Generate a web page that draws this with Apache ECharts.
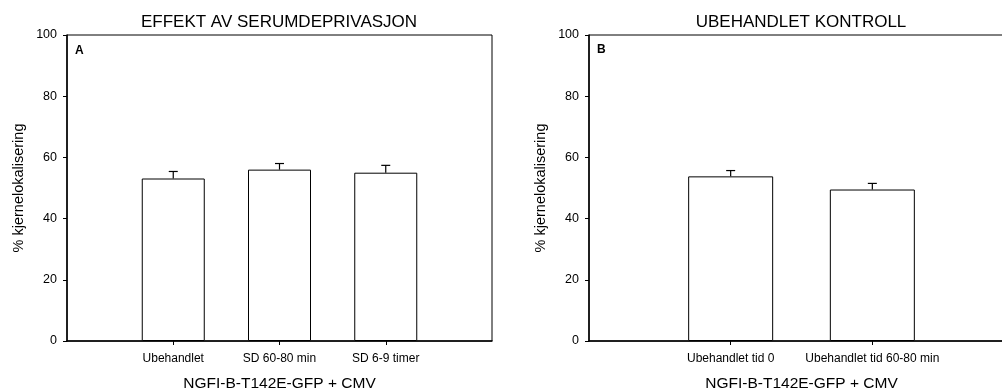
<!DOCTYPE html>
<html>
<head>
<meta charset="utf-8">
<script src="https://cdn.jsdelivr.net/npm/echarts@6/dist/echarts.min.js"></script>
<style>
html,body{margin:0;padding:0;background:#fff;}
#c{width:1002px;height:389px;}
</style>
</head>
<body>
<div id="c"></div>
<script>
const catsA = ['Ubehandlet', 'SD 60-80 min', 'SD 6-9 timer'];
const meansA = [53.1, 56.0, 55.0];
const errA = [2.3, 2.0, 2.4];
const catsB = ['Ubehandlet tid 0', 'Ubehandlet tid 60-80 min'];
const meansB = [53.8, 49.5];
const errB = [1.9, 2.0];
const yMin = 0, yMax = 100, yStep = 20;
const titleA = 'EFFEKT AV SERUMDEPRIVASJON';
const titleB = 'UBEHANDLET KONTROLL';
const xName = 'NGFI-B-T142E-GFP + CMV';
const yName = '% kjernelokalisering';

const FONT = 'Liberation Sans, Arial, sans-serif';
const pad = arr => [''].concat(arr, ['']);
const padV = arr => [null].concat(arr, [null]);

const grids = [
  {left: 67, top: 35, width: 425, height: 306},
  {left: 589, top: 35, width: 425, height: 306}
];

function xAxis(idx, cats) {
  return {
    type: 'category', gridIndex: idx, data: pad(cats), boundaryGap: false,
    axisLine: {lineStyle: {color: '#000', width: 1.5}},
    axisTick: {length: 4, lineStyle: {color: '#000'}, interval: (i, v) => v !== ''},
    axisLabel: {interval: 0, color: '#000', fontFamily: FONT, fontSize: 12, margin: 12},
    name: xName, nameLocation: 'middle', nameGap: 35,
    nameTextStyle: {color: '#000', fontFamily: FONT, fontSize: 15.5}
  };
}
function yAxis(idx) {
  return {
    type: 'value', gridIndex: idx, min: yMin, max: yMax, interval: yStep,
    axisLine: {show: true, lineStyle: {color: '#000', width: 1.5}},
    axisTick: {show: true, length: 4, lineStyle: {color: '#000'}},
    splitLine: {show: false},
    axisLabel: {color: '#000', fontFamily: FONT, fontSize: 12.5, margin: 10},
    name: yName, nameLocation: 'middle', nameGap: 41,
    nameTextStyle: {color: '#000', fontFamily: FONT, fontSize: 14.5}
  };
}
function bars(idx, means, bw) {
  return {
    type: 'bar', xAxisIndex: idx, yAxisIndex: idx, data: padV(means), barWidth: bw,
    itemStyle: {color: '#fff', borderColor: '#000', borderWidth: 1},
    silent: true, animation: false
  };
}
function errs(idx, means, e) {
  const d = means.map((m, i) => [i + 1, m, m + e[i]]);
  return {
    type: 'custom', xAxisIndex: idx, yAxisIndex: idx, data: d, animation: false, silent: true, z: 5,
    renderItem: (params, api) => {
      const x = api.value(0);
      const p0 = api.coord([x, api.value(1)]);
      const p1 = api.coord([x, api.value(2)]);
      const s = {stroke: '#000', lineWidth: 1.2};
      return {type: 'group', children: [
        {type: 'line', shape: {x1: p0[0], y1: p0[1], x2: p1[0], y2: p1[1]}, style: s},
        {type: 'line', shape: {x1: p1[0] - 4.5, y1: p1[1], x2: p1[0] + 4.5, y2: p1[1]}, style: s}
      ]};
    }
  };
}

const chart = echarts.init(document.getElementById('c'), null, {renderer: 'canvas'});
chart.setOption({
  animation: false,
  backgroundColor: '#fff',
  grid: grids.map(g => Object.assign({show: true, borderColor: '#000', borderWidth: 1, backgroundColor: 'transparent', containLabel: false, outerBoundsMode: 'none'}, g)),
  xAxis: [xAxis(0, catsA), xAxis(1, catsB)],
  yAxis: [yAxis(0), yAxis(1)],
  series: [bars(0, meansA, 63), errs(0, meansA, errA), bars(1, meansB, 85), errs(1, meansB, errB)],
  graphic: [
    {type: 'text', x: 279, y: 22, style: {text: titleA, fill: '#000', font: '17px ' + FONT, textAlign: 'center', textVerticalAlign: 'middle'}},
    {type: 'text', x: 801, y: 22, style: {text: titleB, fill: '#000', font: '17px ' + FONT, textAlign: 'center', textVerticalAlign: 'middle'}},
    {type: 'text', x: 75, y: 51, style: {text: 'A', fill: '#000', font: 'bold 12px ' + FONT, textAlign: 'left', textVerticalAlign: 'middle'}},
    {type: 'text', x: 597, y: 50, style: {text: 'B', fill: '#000', font: 'bold 12px ' + FONT, textAlign: 'left', textVerticalAlign: 'middle'}}
  ]
});
</script>
</body>
</html>
